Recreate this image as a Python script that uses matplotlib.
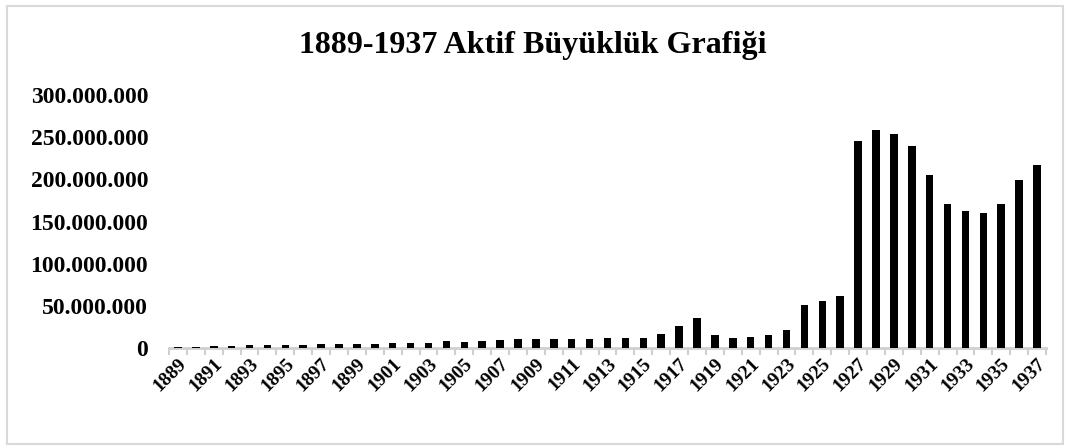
import matplotlib
matplotlib.use("Agg")
import matplotlib.pyplot as plt
import numpy as np
from matplotlib.patches import Rectangle

plt.rcParams["font.family"] = ["Liberation Serif", "DejaVu Serif"]

# yıllar ve aktif büyüklük (TL), grafikten okunmuş tahmini değerler
years = list(range(1889, 1938))
assets_m = [0.8, 1.5, 2.0, 2.0, 3.0, 3.0, 3.5, 3.5, 4.5, 4.5,
            5.0, 5.0, 5.5, 6.0, 6.0, 7.8, 7.0, 8.3, 9.8, 10.6,
            10.6, 11.0, 11.0, 11.0, 11.8, 11.8, 11.8, 17.0, 26.0, 36.0,
            15.4, 12.0, 12.6, 15.0, 21.7, 51.0, 56.0, 61.6, 245.0, 259.0,
            254.0, 239.0, 205.0, 171.0, 162.0, 160.0, 171.0, 199.0, 217.0]
assets = np.array(assets_m) * 1e6
yticks = np.arange(0, 300e6 + 1, 50e6)

fig = plt.figure(figsize=(10.65, 4.46), dpi=100)
ax = fig.add_axes([169 / 1065, 98 / 446, 877 / 1065, 253 / 446])

x = np.arange(len(years))
ax.bar(x, assets, width=0.42, color="black", zorder=3)

ax.set_xlim(-0.5, len(years) - 0.5)
ax.set_ylim(0, 300e6)
ax.set_yticks(yticks)
ax.set_yticklabels([f"{v:,.0f}".replace(",", ".") for v in yticks],
                   fontsize=17, fontweight="bold")
ax.tick_params(axis="y", length=0, pad=15)

ax.set_xticks(x[::2])
ax.set_xticklabels([str(y) for y in years[::2]], rotation=45, ha="right",
                   va="top", rotation_mode="anchor", fontsize=14,
                   fontweight="bold")
ax.tick_params(axis="x", length=0, pad=5)
# kategori sınırlarında küçük gri çentikler
ax.set_xticks(np.arange(-0.5, len(years), 1), minor=True)
ax.tick_params(axis="x", which="minor", length=5, width=1.5, color="#d0d0d0")

for s in ["top", "right", "left"]:
    ax.spines[s].set_visible(False)
ax.spines["bottom"].set_color("#d0d0d0")
ax.spines["bottom"].set_linewidth(2)

fig.text(0.5, 1 - 45 / 446, "1889-1937 Aktif Büyüklük Grafiği",
         ha="center", va="center", fontsize=23, fontweight="bold")

fig.patches.append(Rectangle((7 / 1065, 2 / 446), 1056 / 1065, 438 / 446,
                             transform=fig.transFigure, fill=False,
                             edgecolor="#d9d9d9", linewidth=1.5))

fig.savefig("out.png", dpi=100)
